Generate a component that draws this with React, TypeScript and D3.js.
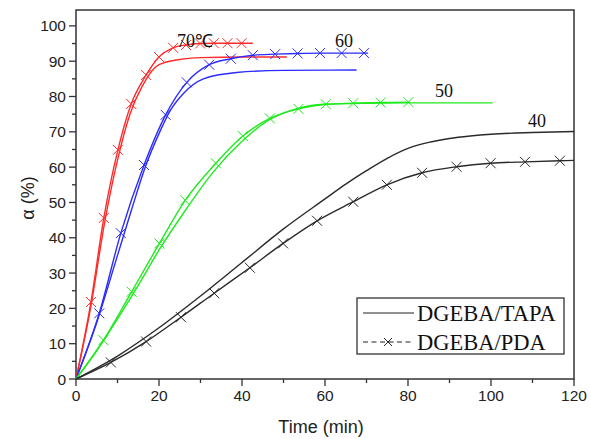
import React, { useEffect, useRef } from 'react';
import * as d3 from 'd3';

// curing degree vs time
const tapa70T = [0, 3.5, 7, 10, 13, 16, 20, 25, 30, 40, 50.8];
const tapa70A = [0, 20, 45, 62, 75, 83, 89, 90.5, 91, 91.2, 91.2];
const pda70T = [0, 3.6, 6.7, 10.1, 13.3, 16.9, 20, 23.4, 26.5, 29.9, 33.2, 36.5, 39.9, 42.6];
const pda70A = [0, 21.8, 45.6, 64.9, 77.9, 86.1, 91.2, 93.8, 94.6, 95.0, 95.1, 95.1, 95.1, 95.1];

const tapa60T = [0, 5, 10, 13.4, 17, 20, 22.7, 26, 30.7, 38.7, 50, 67.6];
const tapa60A = [0, 16, 35, 48, 61, 69.5, 76, 81, 85, 86.8, 87.4, 87.5];
const pda60T = [0, 5.6, 10.8, 16.4, 21.6, 26.7, 32.1, 37.3, 42.6, 48, 53.4, 58.8, 64, 69.4, 70.4];
const pda60A = [0, 18.6, 41.3, 60.6, 74.8, 84, 89, 90.7, 91.7, 92, 92.2, 92.3, 92.3, 92.3, 92.3];

const tapa50T = [0, 5, 10, 15, 20, 26.5, 33, 40, 46, 53, 60, 70, 80, 100.4];
const tapa50A = [0, 8, 17, 26.5, 36.5, 48, 58.5, 67.3, 73, 76.5, 77.8, 78.1, 78.2, 78.2];
const pda50T = [0, 6.6, 13.4, 20.1, 26.3, 33.7, 40.2, 46.7, 53.6, 60.2, 66.8, 73.4, 80.1, 80.5];
const pda50A = [0, 11, 24.7, 38.4, 50.6, 61.1, 68.8, 73.8, 76.5, 77.8, 78.1, 78.3, 78.4, 78.4];

const tapa40T = [0, 10, 20, 30, 40, 50, 60, 65, 70, 75, 80, 85, 90, 95, 100, 110, 120];
const tapa40A = [0, 6.5, 14.5, 23.5, 33, 42.5, 51, 55.2, 59, 62.5, 65.3, 67, 68.1, 68.8, 69.3, 69.8, 70.1];
const pda40T = [0, 8.4, 16.9, 25.3, 33.3, 41.9, 49.9, 58.1, 66.8, 74.9, 83.4, 91.7, 99.9, 108.2, 116.6, 120];
const pda40A = [0, 4.7, 10.6, 17.5, 24.3, 31.5, 38.4, 44.8, 50.2, 55, 58.4, 60.1, 61.1, 61.5, 61.8, 61.9];

const temps = ['70℃', '60', '50', '40'];
const legendNames = ['DGEBA/TAPA', 'DGEBA/PDA'];
const xTicks = [0, 20, 40, 60, 80, 100, 120];
const yTicks = [0, 10, 20, 30, 40, 50, 60, 70, 80, 90, 100];

const series = [
  { name: temps[0], color: '#ff2b2b', tapa: [tapa70T, tapa70A], pda: [pda70T, pda70A], lx: 177, ly: 47 },
  { name: temps[1], color: '#2b2bff', tapa: [tapa60T, tapa60A], pda: [pda60T, pda60A], lx: 335, ly: 47 },
  { name: temps[2], color: '#1eea1e', tapa: [tapa50T, tapa50A], pda: [pda50T, pda50A], lx: 435, ly: 97 },
  { name: temps[3], color: '#2a2a2a', tapa: [tapa40T, tapa40A], pda: [pda40T, pda40A], lx: 528, ly: 127 },
];

function zip(t: number[], a: number[]): [number, number][] {
  return t.map((v, i) => [v, a[i]]);
}

function App() {
  const ref = useRef<SVGSVGElement>(null);

  useEffect(() => {
    const svg = d3.select(ref.current);
    svg.selectAll('*').remove();

    const x = d3.scaleLinear().domain([0, 120]).range([76, 574]);
    const y = d3.scaleLinear().domain([0, 104.5]).range([379, 10]);
    const axisColor = '#333';
    const sans = '"Liberation Sans", Arial, sans-serif';
    const serif = '"Liberation Serif", "Times New Roman", serif';

    const line = d3.line<[number, number]>()
      .x(d => x(d[0]))
      .y(d => y(d[1]))
      .curve(d3.curveMonotoneX);

    // frame
    svg.append('rect')
      .attr('x', x(0)).attr('y', y(104.5))
      .attr('width', x(120) - x(0)).attr('height', y(0) - y(104.5))
      .attr('fill', 'none').attr('stroke', axisColor).attr('stroke-width', 1.5);

    // y ticks
    const yMinor = d3.range(5, 100, 10);
    svg.selectAll('.ytick').data(yTicks).enter().append('line')
      .attr('x1', x(0) - 7).attr('x2', x(0))
      .attr('y1', d => y(d)).attr('y2', d => y(d))
      .attr('stroke', axisColor).attr('stroke-width', 1.3);
    svg.selectAll('.yminor').data(yMinor).enter().append('line')
      .attr('x1', x(0) - 4).attr('x2', x(0))
      .attr('y1', d => y(d)).attr('y2', d => y(d))
      .attr('stroke', axisColor).attr('stroke-width', 1.3);
    svg.selectAll('.ylab').data(yTicks).enter().append('text')
      .attr('x', x(0) - 10).attr('y', d => y(d) + 5.5)
      .attr('text-anchor', 'end').attr('font-family', sans).attr('font-size', 15.5)
      .attr('fill', '#222').text(d => d);

    // x ticks
    const xMinor = d3.range(10, 120, 20);
    svg.selectAll('.xtick').data(xTicks).enter().append('line')
      .attr('x1', d => x(d)).attr('x2', d => x(d))
      .attr('y1', y(0)).attr('y2', y(0) + 7)
      .attr('stroke', axisColor).attr('stroke-width', 1.3);
    svg.selectAll('.xminor').data(xMinor).enter().append('line')
      .attr('x1', d => x(d)).attr('x2', d => x(d))
      .attr('y1', y(0)).attr('y2', y(0) + 4)
      .attr('stroke', axisColor).attr('stroke-width', 1.3);
    svg.selectAll('.xlab').data(xTicks).enter().append('text')
      .attr('x', d => x(d)).attr('y', y(0) + 22)
      .attr('text-anchor', 'middle').attr('font-family', sans).attr('font-size', 15.5)
      .attr('fill', '#222').text(d => d);

    // axis titles
    svg.append('text')
      .attr('x', 321).attr('y', 433)
      .attr('text-anchor', 'middle').attr('font-family', sans).attr('font-size', 18)
      .attr('fill', '#222').text('Time (min)');
    svg.append('text')
      .attr('transform', 'translate(34,198) rotate(-90)')
      .attr('text-anchor', 'middle').attr('font-family', sans).attr('font-size', 18)
      .attr('fill', '#222').text('α (%)');

    // curves
    const cross = (g: any, cx: number, cy: number, color: string, s = 5) => {
      g.append('path')
        .attr('d', `M${cx - s},${cy - s}L${cx + s},${cy + s}M${cx - s},${cy + s}L${cx + s},${cy - s}`)
        .attr('stroke', color).attr('stroke-width', 1).attr('fill', 'none');
    };

    series.forEach(s => {
      const tp = zip(s.tapa[0], s.tapa[1]);
      const pd = zip(s.pda[0], s.pda[1]);
      svg.append('path').attr('d', line(tp)!)
        .attr('fill', 'none').attr('stroke', s.color).attr('stroke-width', 1.4);
      svg.append('path').attr('d', line(pd)!)
        .attr('fill', 'none').attr('stroke', s.color).attr('stroke-width', 1.4);
      const g = svg.append('g');
      pd.slice(1, -1).forEach(p => cross(g, x(p[0]), y(p[1]), s.color));
      svg.append('text')
        .attr('x', s.lx).attr('y', s.ly)
        .attr('font-family', serif).attr('font-size', 18)
        .attr('fill', '#111').text(s.name);
    });

    // legend
    const lg = svg.append('g');
    lg.append('rect')
      .attr('x', 357).attr('y', 298).attr('width', 207).attr('height', 56)
      .attr('fill', '#fff').attr('stroke', axisColor).attr('stroke-width', 1.3);
    lg.append('line')
      .attr('x1', 363).attr('x2', 414).attr('y1', 313).attr('y2', 313)
      .attr('stroke', '#222').attr('stroke-width', 1.2);
    lg.append('line')
      .attr('x1', 363).attr('x2', 414).attr('y1', 342).attr('y2', 342)
      .attr('stroke', '#222').attr('stroke-width', 1.2).attr('stroke-dasharray', '5,3.5');
    cross(lg, 388, 342, '#222', 4);
    legendNames.forEach((n, i) => {
      lg.append('text')
        .attr('x', 417).attr('y', 321 + i * 29)
        .attr('font-family', serif).attr('font-size', 22.5)
        .attr('fill', '#111').text(n);
    });
  }, []);

  return (
    <svg ref={ref} width={590} height={439}
      style={{ position: 'absolute', left: 0, top: 0, background: '#fff' }} />
  );
}

export default App;
